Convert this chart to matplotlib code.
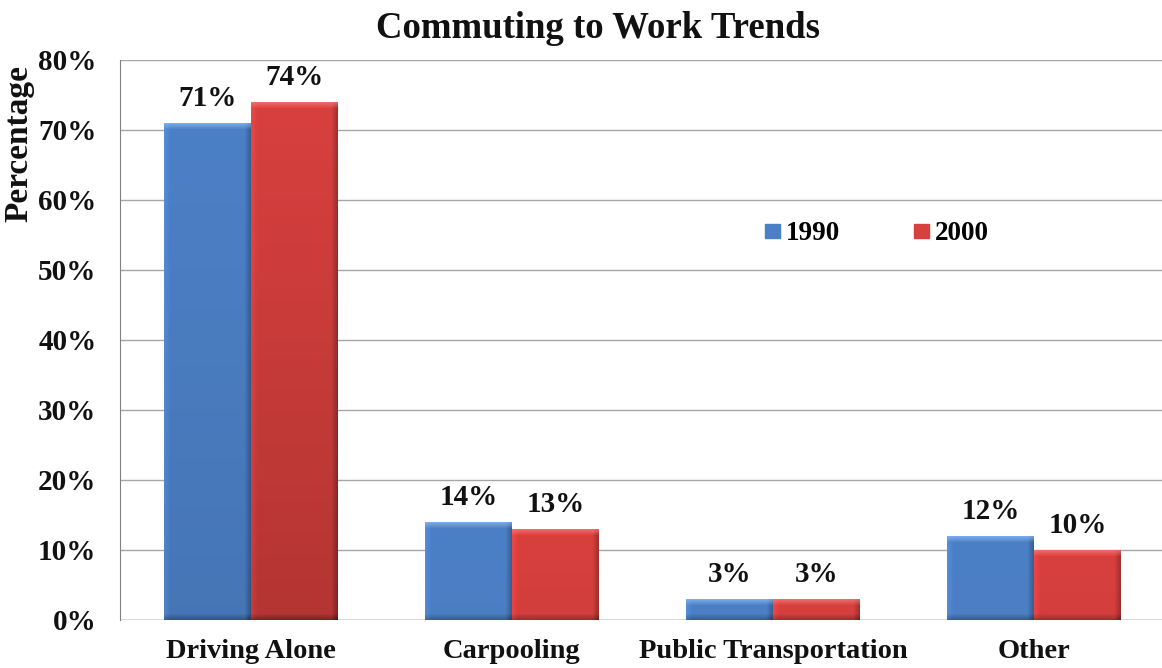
import matplotlib.pyplot as plt
import numpy as np
from matplotlib.colors import to_rgb
from matplotlib.ticker import FuncFormatter

categories = ["Driving Alone", "Carpooling", "Public Transportation", "Other"]
years = ["1990", "2000"]
share_1990 = [71, 14, 3, 12]
share_2000 = [74, 13, 3, 10]

BLUE = "#4C80C6"
RED = "#D8403E"
FONT = ["Liberation Serif", "DejaVu Serif"]

plt.rcParams["font.family"] = FONT
plt.rcParams["font.weight"] = "bold"

W, H = 1162, 668
fig = plt.figure(figsize=(W / 100, H / 100), dpi=100)
ax = fig.add_axes([120 / W, 48 / H, 1045 / W, 560 / H])

x = np.arange(len(categories))
width = 0.333
ax.set_xlim(-0.5, len(categories) - 0.5)
ax.set_ylim(0, 80)

px_per_unit_y = 560 / 80
px_per_unit_x = 1045 / len(categories)


def bevel_image(color, w_px, h_px, fade):
    # shaded face: light rim on top/left, darker rim on right/bottom
    base = np.array(to_rgb(color))
    ny, nx = max(int(h_px), 2), max(int(w_px), 2)
    yy, xx = np.mgrid[0:ny, 0:nx]
    rim = 6.0
    top = np.clip(1 - yy / rim, 0, 1)
    left = np.clip(1 - xx / rim, 0, 1)
    right = np.clip(1 - (nx - 1 - xx) / rim, 0, 1)
    bottom = np.clip(1 - (ny - 1 - yy) / rim, 0, 1)
    shade = 1 + 0.10 * left - 0.25 * right - 0.25 * bottom
    shade = shade - fade * (yy / 490)
    img = np.clip(base[None, None, :] * shade[..., None], 0, 1)
    light = np.clip(base + 0.28, 0, 1)
    img = img * (1 - 0.6 * top[..., None]) + light * 0.6 * top[..., None]
    return img


for offset, vals, color, fade in [(-width / 2, share_1990, BLUE, 0.08),
                                  (width / 2, share_2000, RED, 0.16)]:
    bars = ax.bar(x + offset, vals, width, color=color, edgecolor="none", zorder=3)
    for rect, v in zip(bars, vals):
        x0 = rect.get_x()
        img = bevel_image(color, width * px_per_unit_x, v * px_per_unit_y, fade)
        im = ax.imshow(img, extent=(x0, x0 + width, 0, v), aspect="auto",
                       origin="upper", zorder=4, interpolation="bilinear")
        im.set_clip_path(rect)
        ax.annotate(f"{v}%", (x0 + width / 2, v), xytext=(0, 8), textcoords="offset points",
                    ha="center", va="bottom", fontsize=21, fontweight="bold",
                    color="#111111", zorder=5)

ax.set_xlim(-0.5, len(categories) - 0.5)
ax.set_ylim(0, 80)

ax.set_yticks(np.arange(0, 81, 10))
ax.yaxis.set_major_formatter(FuncFormatter(lambda v, _: f"{int(v)}%"))
ax.set_xticks(x)
ax.set_xticklabels(categories)
ax.tick_params(axis="y", length=0, pad=17, labelsize=21, labelcolor="#111111")
ax.tick_params(axis="x", length=0, pad=14, labelsize=20.5, labelcolor="#111111")
ax.grid(axis="y", color="#A6A6A6", linewidth=1.0, zorder=0)
for side in ["top", "right", "bottom"]:
    ax.spines[side].set_visible(False)
ax.spines["left"].set_color("#808080")
ax.axhline(0, color="#808080", linewidth=1.0, zorder=1)

ax.set_ylabel("Percentage", fontsize=24, fontweight="bold", color="#111111")
ax.yaxis.set_label_coords((34 - 120) / 1045, (620 - 143) / 560)

fig.text(598 / W, 1 - 28 / H, "Commuting to Work Trends", ha="center", va="center",
         fontsize=26.5, fontweight="bold", color="#111111")

handles = [plt.Rectangle((0, 0), 1, 1, color=c) for c in (BLUE, RED)]
ax.legend(handles, years, loc="center", bbox_to_anchor=((877 - 120) / 1045, (620 - 234) / 560),
          ncol=2, frameon=False, handlelength=0.55, handleheight=0.45,
          handletextpad=0.2, columnspacing=2.75,
          prop={"weight": "bold", "size": 19.5, "family": FONT})

fig.savefig("out.png", dpi=100)
